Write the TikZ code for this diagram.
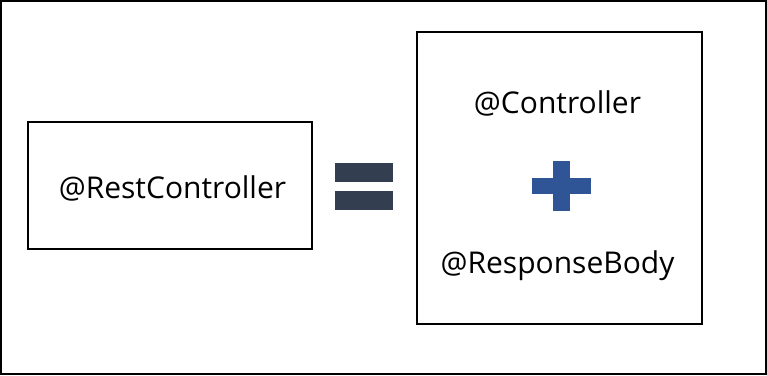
\documentclass[tikz,border=0pt]{standalone}
\usepackage{fontspec}
\setmainfont{Open Sans}
\definecolor{eqgray}{HTML}{333F50}
\definecolor{plusblue}{HTML}{2F5597}
\begin{document}
\begin{tikzpicture}[x=1pt,y=-1pt,
    box/.style={draw,line width=1.2pt,inner sep=0pt},
    annot/.style={anchor=base,font=\fontsize{30}{36}\selectfont}]
  \useasboundingbox (0,0) rectangle (767,375);
  \draw[line width=2pt] (1,1) rectangle (765.5,373.5);
  % left box
  \node[box,minimum width=284pt,minimum height=127pt] (restbox) at (170,185.5) {};
  \node[annot] (rest) at (172.5,198) {@RestController};
  % equal sign
  \fill[eqgray] (335,163) rectangle (393,182);
  \fill[eqgray] (335,191) rectangle (393,210);
  % right box
  \node[box,minimum width=285pt,minimum height=292pt] (combobox) at (559.5,178) {};
  \node[annot] (ctrl) at (557.5,113) {@Controller};
  \node[annot] (body) at (557.5,273) {@ResponseBody};
  % plus sign
  \fill[plusblue] (553,161) rectangle (570,211);
  \fill[plusblue] (532,178) rectangle (591,194);
\end{tikzpicture}
\end{document}
